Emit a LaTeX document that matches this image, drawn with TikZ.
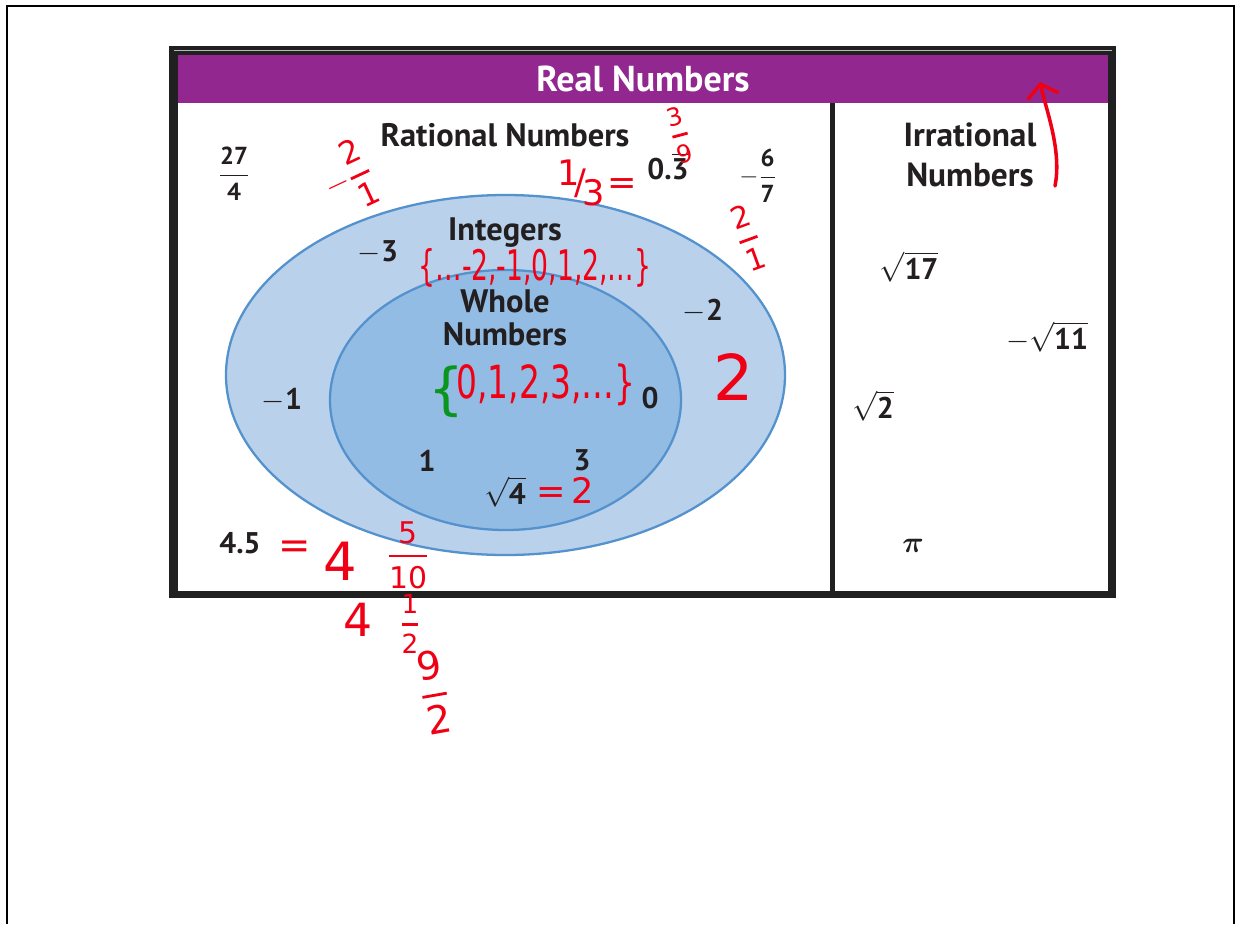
\documentclass[tikz,border=0pt]{standalone}
\usepackage{fix-cm}
\usepackage{amsmath}
\usepackage{fontspec}
\setmainfont{PT Sans}
\newfontfamily\handfont{DejaVu Sans}
\usetikzlibrary{arrows.meta}

\definecolor{realpurple}{RGB}{146,39,143}
\definecolor{boxdark}{RGB}{32,32,32}
\definecolor{inkdark}{RGB}{35,31,32}
\definecolor{ratblue}{RGB}{185,209,235}
\definecolor{wholeblue}{RGB}{146,188,228}
\definecolor{rimblue}{RGB}{84,146,206}
\definecolor{penred}{RGB}{240,0,20}
\definecolor{pengreen}{RGB}{10,150,30}

\newcommand{\numfrac}[2]{\dfrac{\text{#1}\rule[-3.5pt]{0pt}{3.5pt}}{\rule{0pt}{12.5pt}\text{#2}}}
\newcommand{\penfrac}[2]{\genfrac{}{}{1.6pt}{0}{\text{#1}}{\text{#2}}}

\tikzset{
  head/.style={font=\bfseries\fontsize{18.5}{20}\selectfont, text=inkdark, inner sep=0pt, align=center},
  numlabel/.style={font=\bfseries\fontsize{17}{19}\selectfont, text=inkdark, inner sep=0pt},
  fraclabel/.style={font=\bfseries\fontsize{14}{16}\selectfont, text=inkdark, inner sep=0pt},
  pen/.style={font=\handfont\fontsize{22}{24}\selectfont, text=penred, inner sep=0pt},
}

\begin{document}
\begin{tikzpicture}[x=0.02cm,y=-0.02cm]
\useasboundingbox (0,0) rectangle (1239,924);

% page edge
\draw[line width=1.3pt] (7,924) -- (7,6) -- (1234,6) -- (1234,924);

% chart box
\fill[boxdark] (169,46) rectangle (1116,598);
\fill[white] (178,103) rectangle (1108,591);
\fill[realpurple] (178,55) rectangle (1108,103);
\draw[gray!55, line width=0.9pt] (174,50.5) -- (1112,50.5);
\fill[boxdark] (830,103) rectangle (835,591);
\node[head, text=white, font=\bfseries\fontsize{20.5}{22}\selectfont] (real) at (643,79) {Real Numbers};

% rational side
\node[head] (rational) at (505,135) {Rational Numbers};
\filldraw[fill=ratblue, draw=rimblue, line width=1.3pt] (505.5,375) ellipse (279.5 and 180);
\filldraw[fill=wholeblue, draw=rimblue, line width=1.3pt] (505.5,400) ellipse (175.5 and 130);
\node[head] (integers) at (505,233) {Integers};
\node[head, font=\bfseries\fontsize{18.5}{18.7}\selectfont] (whole) at (505,318) {Whole\\Numbers};

\node[fraclabel] (twentyseven) at (234,174) {$\numfrac{27}{4}$};
\node[numlabel] (repeating) at (668,166) {$\text{0.}\overline{\text{3}}$};
\node[fraclabel] (sixsevenths) at (758,176) {$-\numfrac{6}{7}$};
\node[numlabel] (mthree) at (378,252) {$-\text{3}$};
\node[numlabel] (mtwo) at (703,311) {$-\text{2}$};
\node[numlabel] (mone) at (282,400) {$-\text{1}$};
\node[numlabel] (zero) at (650,398) {0};
\node[numlabel] (one) at (427,461) {1};
\node[numlabel] (three) at (582,460) {3};
\node[numlabel] (rootfour) at (505,492) {$\sqrt{\text{4}}$};
\node[numlabel] (fourfive) at (240,543) {4.5};

% irrational side
\node[head, font=\bfseries\fontsize{19}{22.7}\selectfont] (irrational) at (970,155) {Irrational\\Numbers};
\node[numlabel] (rootseventeen) at (909,267) {$\sqrt{\text{17}}$};
\node[numlabel] (rooteleven) at (1047,337) {$-\sqrt{\text{11}}$};
\node[numlabel] (roottwo) at (873,406) {$\sqrt{\text{2}}$};
\node[numlabel] (pi) at (913,546) {$\boldsymbol{\pi}$};

% pen notes
\coordinate (arrowfoot) at (1055,186);
\coordinate (arrowtip) at (1040,82);
\draw[penred, line width=2pt, line cap=round, -{Straight Barb[length=7pt,width=18pt]}]
  (arrowfoot) .. controls (1062,150) and (1046,110) .. (arrowtip);
\node[pen, font=\handfont\fontsize{18}{20}\selectfont, rotate=25] (negtwoone) at (348,178) {$-\penfrac{2}{1}$};
\node[pen, font=\handfont\fontsize{20}{22}\selectfont] (onethird) at (597,183) {\raisebox{5pt}{1}\kern-3pt/\kern-2pt\raisebox{-6pt}{3}\kern1pt=};
\node[pen, font=\handfont\fontsize{14}{16}\selectfont, rotate=15] (threeninths) at (680,135) {$\penfrac{3}{9}$};
\node[pen, font=\handfont\fontsize{17}{19}\selectfont, rotate=20] (twoone) at (748,238) {$\penfrac{2}{1}$};
\node[pen, font=\handfont\fontsize{24}{26}\selectfont, xscale=0.63] (intset) at (535,268) {\{…-2,-1,0,1,2,…\}};
\node[pen, text=pengreen, font=\handfont\fontsize{32}{34}\selectfont] (wholebrace) at (446,392) {\{};
\node[pen, font=\handfont\fontsize{26}{28}\selectfont, xscale=0.72] (wholeset) at (546,385) {0,1,2,3,…\}};
\node[pen, font=\handfont\fontsize{36}{38}\selectfont] (bigtwo) at (734,377) {2};
\node[pen, font=\handfont\fontsize{20}{22}\selectfont] (rootval) at (565,490) {=\,2};
\node[pen] (equals) at (295,550) {=};
\node[pen, font=\handfont\fontsize{30}{32}\selectfont] (fourwhole) at (340,561) {4};
\node[pen, font=\handfont\fontsize{17}{19}\selectfont] (fivetenths) at (408,555) {$\penfrac{5}{10}$};
\node[pen, font=\handfont\fontsize{26}{28}\selectfont] (fourmixed) at (358,620) {4};
\node[pen, font=\handfont\fontsize{15}{17}\selectfont] (onehalf) at (410,624) {$\penfrac{1}{2}$};
\node[pen, font=\handfont\fontsize{22}{24}\selectfont, rotate=10] (ninehalves) at (434,692) {$\penfrac{9}{2}$};
\end{tikzpicture}
\end{document}
